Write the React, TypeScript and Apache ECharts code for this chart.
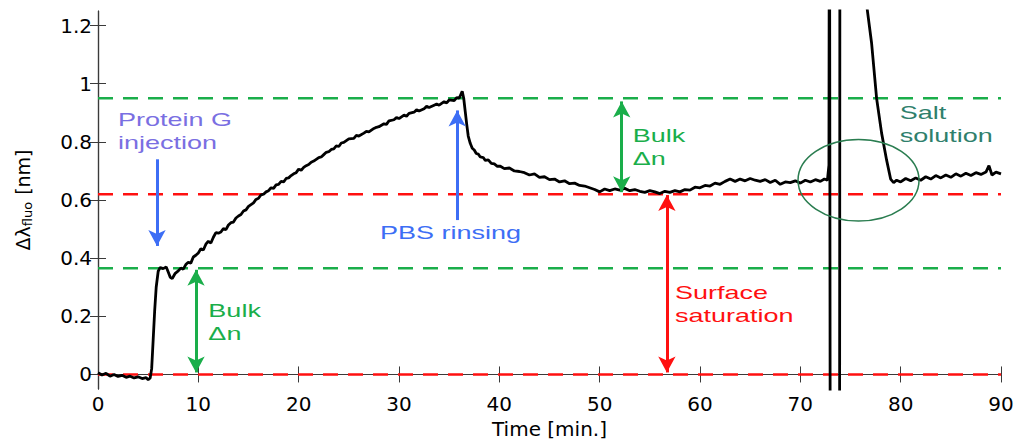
import React, { useEffect, useRef } from 'react';
import * as echarts from 'echarts';

const baseline = [
  [0, 0.006], [0.4, -0.002], [0.8, 0.004], [1.2, -0.006], [1.6, 0.0], [2.0, -0.007], [2.4, -0.003],
  [2.8, -0.01], [3.2, -0.006], [3.6, -0.012], [4.0, -0.008], [4.4, -0.014], [4.8, -0.011], [5.0, -0.018],
  [5.2, -0.012], [5.35, 0.02], [5.5, 0.12], [5.65, 0.22], [5.8, 0.3], [6.0, 0.355], [6.2, 0.368],
  [6.5, 0.364], [6.8, 0.37], [7.0, 0.352], [7.2, 0.334], [7.4, 0.33], [7.7, 0.348], [8.0, 0.356],
];
const proteinRise = [
  [8.25, 0.366], [8.5, 0.362], [8.75, 0.378], [9.0, 0.386], [9.25, 0.383], [9.5, 0.404], [9.75, 0.41],
  [10.0, 0.418], [10.25, 0.432], [10.5, 0.428], [10.75, 0.448], [11.0, 0.458], [11.25, 0.452], [11.5, 0.472],
  [11.75, 0.488], [12.0, 0.486], [12.25, 0.49], [12.5, 0.502], [12.75, 0.498], [13.0, 0.514], [13.25, 0.522],
  [13.5, 0.524], [13.75, 0.538], [14.0, 0.545], [14.25, 0.55], [14.5, 0.562], [14.75, 0.566], [15.0, 0.578],
  [15.25, 0.584], [15.5, 0.59], [15.75, 0.602], [16.0, 0.606], [16.25, 0.618], [16.5, 0.62], [16.75, 0.628],
  [17.0, 0.632], [17.25, 0.642], [17.5, 0.64], [17.75, 0.652], [18.0, 0.654], [18.25, 0.664], [18.5, 0.662],
  [18.75, 0.674], [19.0, 0.676], [19.25, 0.684], [19.5, 0.69], [19.75, 0.694], [20.0, 0.706], [20.25, 0.702],
  [20.5, 0.712], [20.75, 0.718], [21.0, 0.722], [21.25, 0.73], [21.5, 0.734], [21.75, 0.74], [22.0, 0.746],
  [22.25, 0.748], [22.5, 0.756], [22.75, 0.764], [23.0, 0.766], [23.25, 0.774], [23.5, 0.776], [23.75, 0.786],
  [24.0, 0.784], [24.25, 0.796], [24.5, 0.798], [24.75, 0.804], [25.0, 0.81], [25.5, 0.812], [25.75, 0.822],
  [26.0, 0.82], [26.5, 0.83], [26.75, 0.836], [27.0, 0.834], [27.5, 0.846], [27.75, 0.85], [28.0, 0.852],
  [28.5, 0.862], [28.75, 0.86], [29.0, 0.872], [29.5, 0.876], [29.75, 0.884], [30.0, 0.88], [30.5, 0.892],
  [30.75, 0.888], [31.0, 0.898], [31.5, 0.902], [31.75, 0.91], [32.0, 0.906], [32.5, 0.914], [32.75, 0.922],
  [33.0, 0.918], [33.5, 0.926], [33.75, 0.93], [34.0, 0.926], [34.5, 0.938], [34.75, 0.934], [35.0, 0.944],
  [35.5, 0.942], [35.75, 0.952], [36.0, 0.95], [36.15, 0.962], [36.3, 0.974], [36.45, 0.95],
];
const pbsRinse = [
  [36.6, 0.905], [36.75, 0.86], [36.9, 0.82], [37.1, 0.795], [37.3, 0.778], [37.5, 0.772], [37.7, 0.76],
  [37.9, 0.758], [38.1, 0.748], [38.4, 0.746], [38.6, 0.736], [38.9, 0.738], [39.2, 0.726], [39.5, 0.724],
  [39.8, 0.716], [40.1, 0.716], [40.5, 0.708], [41.0, 0.71], [41.5, 0.7], [42.0, 0.698], [42.5, 0.694],
  [43.0, 0.686], [43.5, 0.69], [44.0, 0.678], [44.5, 0.68], [45.0, 0.67], [45.5, 0.672], [46.0, 0.662],
  [46.5, 0.666], [47.0, 0.656], [47.5, 0.658], [48.0, 0.65], [48.5, 0.648], [49.0, 0.642], [49.5, 0.636],
  [50.0, 0.628], [50.5, 0.638], [51.0, 0.632], [51.5, 0.638], [52.0, 0.634], [52.5, 0.64], [53.0, 0.632],
  [53.5, 0.636], [54.0, 0.63], [54.5, 0.626], [55.0, 0.632], [55.5, 0.628], [56.0, 0.622], [56.5, 0.63],
  [57.0, 0.626], [57.5, 0.632], [58.0, 0.628], [58.5, 0.636], [59.0, 0.634], [59.5, 0.644], [60.0, 0.642],
  [60.5, 0.65], [61.0, 0.648], [61.5, 0.658], [62.0, 0.654], [62.5, 0.664], [63.0, 0.672], [63.5, 0.664],
  [64.0, 0.672], [64.5, 0.666], [65.0, 0.674], [65.5, 0.668], [66.0, 0.664], [66.5, 0.67], [67.0, 0.66],
  [67.5, 0.668], [68.0, 0.654], [68.5, 0.662], [69.0, 0.66], [69.5, 0.666], [70.0, 0.658], [70.5, 0.668],
  [71.0, 0.662], [71.5, 0.67], [72.0, 0.664], [72.4, 0.672], [72.7, 0.668],
];
const saltStep = [
  [72.85, 0.72], [72.9, 2.0], [73.0, -1.0], [73.9, -1.0], [73.95, 2.0], [76.5, 1.3], [77.1, 1.14],
  [77.6, 0.95], [78.1, 0.83], [78.6, 0.737], [79.0, 0.672], [79.3, 0.66], [79.6, 0.668], [80.0, 0.662],
  [80.5, 0.674], [81.0, 0.666], [81.5, 0.676], [82.0, 0.668], [82.5, 0.68], [83.0, 0.672], [83.5, 0.684],
  [84.0, 0.676], [84.5, 0.686], [85.0, 0.678], [85.5, 0.69], [86.0, 0.682], [86.5, 0.692], [87.0, 0.684],
  [87.5, 0.694], [88.0, 0.688], [88.5, 0.696], [88.8, 0.718], [89.1, 0.686], [89.5, 0.696], [90.0, 0.69],
];

// horizontal reference levels [nm]
const greenLevels = [0.95, 0.365];
const redLevels = [0.62, 0];

const xTicks = [0, 10, 20, 30, 40, 50, 60, 70, 80, 90];
const yTicks = [0, 0.2, 0.4, 0.6, 0.8, 1, 1.2];

// arrows: [x, yFrom, yTo, color, doubleHeaded]
const arrows: Array<[number, number, number, string, boolean]> = [
  [5.88, 0.74, 0.442, '#3d6ef5', false],
  [35.8, 0.531, 0.908, '#3d6ef5', false],
  [9.77, 0.36, 0.007, '#1aae4a', true],
  [52.2, 0.939, 0.627, '#1aae4a', true],
  [56.7, 0.617, 0.007, '#ff1010', true],
];

// annotation texts: [x, y, text, color]
const notes: Array<[number, number, string, string]> = [
  [2.0, 0.835, 'Protein G\ninjection', '#7a6fe2'],
  [11.0, 0.178, 'Bulk\nΔn', '#1aae4a'],
  [28.1, 0.487, 'PBS rinsing', '#3d6ef5'],
  [53.3, 0.782, 'Bulk\nΔn', '#1aae4a'],
  [57.5, 0.24, 'Surface\nsaturation', '#ff1010'],
  [79.9, 0.862, 'Salt\nsolution', '#2f7f6c'],
];

// salt-solution ellipse: [cx, cy, rx, ry] in data units
const saltEllipse = [75.8, 0.668, 6.03, 0.14];

const FONT = "'Liberation Sans', Arial, sans-serif";
const TICK_FONT = "'DejaVu Sans', sans-serif";
const AXIS = '#3a3a3a';

const App: React.FC = () => {
  const chartRef = useRef<HTMLDivElement>(null);

  useEffect(() => {
    document.body.style.margin = '0';
    if (!chartRef.current) return;
    const chart = echarts.init(chartRef.current, undefined, { renderer: 'svg' });

    const curve = [...baseline, ...proteinRise, ...pbsRinse, ...saltStep];

    const levelSeries = [
      ...greenLevels.map((v) => ({ v, c: '#1aae4a' })),
      ...redLevels.map((v) => ({ v, c: '#ff1010' })),
    ].map(({ v, c }) => ({
      type: 'line',
      data: [[0, v], [90, v]],
      symbol: 'none',
      silent: true,
      lineStyle: { color: c, width: 2.5, type: [15, 10] },
      z: 2,
    }));

    const arrowSeries = arrows.map(([x, y0, y1, c, both]) => ({
      type: 'line',
      data: [],
      markLine: {
        silent: true,
        symbol: [both ? 'arrow' : 'none', 'arrow'],
        symbolSize: [13, 16],
        label: { show: false },
        lineStyle: { color: c, width: 3, type: 'solid' },
        data: [[{ coord: [x, y0] }, { coord: [x, y1] }]],
      },
      z: 4,
    }));

    const frameAxis = {
      type: 'value',
      axisLine: { show: true, lineStyle: { color: AXIS, width: 1.2 } },
      axisLabel: { show: false },
      splitLine: { show: false },
    };

    const option = {
      animation: false,
      grid: { left: 98, right: 23, top: 11, bottom: 55 },
      xAxis: [
        {
          ...frameAxis,
          min: 0,
          max: 90,
          interval: 10,
          name: 'Time [min.]',
          nameLocation: 'middle',
          nameGap: 23,
          nameTextStyle: { fontFamily: TICK_FONT, fontSize: 20, color: '#000' },
          axisTick: { show: true, inside: true, length: 8, customValues: xTicks, lineStyle: { color: AXIS } },
          axisLabel: { show: true, fontFamily: TICK_FONT, fontSize: 20, color: '#000', margin: 5, customValues: xTicks },
        },
        {
          ...frameAxis,
          position: 'top',
          min: 0,
          max: 90,
          interval: 10,
          axisTick: { show: true, inside: true, length: 8, customValues: xTicks, lineStyle: { color: AXIS } },
        },
      ],
      yAxis: [
        {
          ...frameAxis,
          min: -0.05,
          max: 1.25,
          name: '{a|Δλ}{s|fluo}{a| [nm]}',
          nameLocation: 'middle',
          nameGap: 64,
          nameRotate: 90,
          nameTextStyle: {
            rich: {
              a: { fontFamily: TICK_FONT, fontSize: 19, color: '#000', lineHeight: 22, verticalAlign: 'middle' },
              s: { fontFamily: TICK_FONT, fontSize: 13, color: '#000', lineHeight: 22, verticalAlign: 'bottom', padding: [8, 1, 0, 0] },
            },
          },
          axisTick: { show: true, inside: true, length: 8, customValues: yTicks, lineStyle: { color: AXIS } },
          axisLabel: { show: true, fontFamily: TICK_FONT, fontSize: 20, color: '#000', margin: 6, customValues: yTicks },
        },
        {
          ...frameAxis,
          position: 'right',
          min: -0.05,
          max: 1.25,
          axisTick: { show: true, inside: true, length: 8, customValues: yTicks, lineStyle: { color: AXIS } },
          axisLabel: { show: false, customValues: yTicks },
        },
      ],
      series: [
        ...levelSeries,
        {
          type: 'line',
          data: curve,
          symbol: 'none',
          clip: true,
          lineStyle: { color: '#000', width: 2.8 },
          z: 3,
        },
        ...arrowSeries,
        {
          // annotations; the source figure's text is stretched horizontally
          type: 'custom',
          silent: true,
          data: notes.map((n, i) => [n[0], n[1], i]),
          renderItem: (_params: any, api: any) => {
            const i = api.value(2);
            const p = api.coord([api.value(0), api.value(1)]);
            return {
              type: 'text',
              x: p[0],
              y: p[1],
              scaleX: 1.5,
              style: {
                text: notes[i][2],
                fill: notes[i][3],
                fontFamily: FONT,
                fontSize: 18,
                lineHeight: 23,
                align: 'left',
                verticalAlign: 'middle',
              },
            };
          },
          z: 5,
        },
        {
          type: 'custom',
          silent: true,
          data: [saltEllipse],
          renderItem: (_params: any, api: any) => {
            const c = api.coord([api.value(0), api.value(1)]);
            const s = api.size([api.value(2), api.value(3)]);
            return {
              type: 'ellipse',
              shape: { cx: c[0], cy: c[1], rx: s[0], ry: s[1] },
              style: { fill: 'none', stroke: '#2a7d50', lineWidth: 1.5 },
            };
          },
          z: 5,
        },
      ],
    };

    chart.setOption(option);
    return () => {
      chart.dispose();
    };
  }, []);

  return <div ref={chartRef} style={{ width: '1024px', height: '444px' }} />;
};

export default App;
